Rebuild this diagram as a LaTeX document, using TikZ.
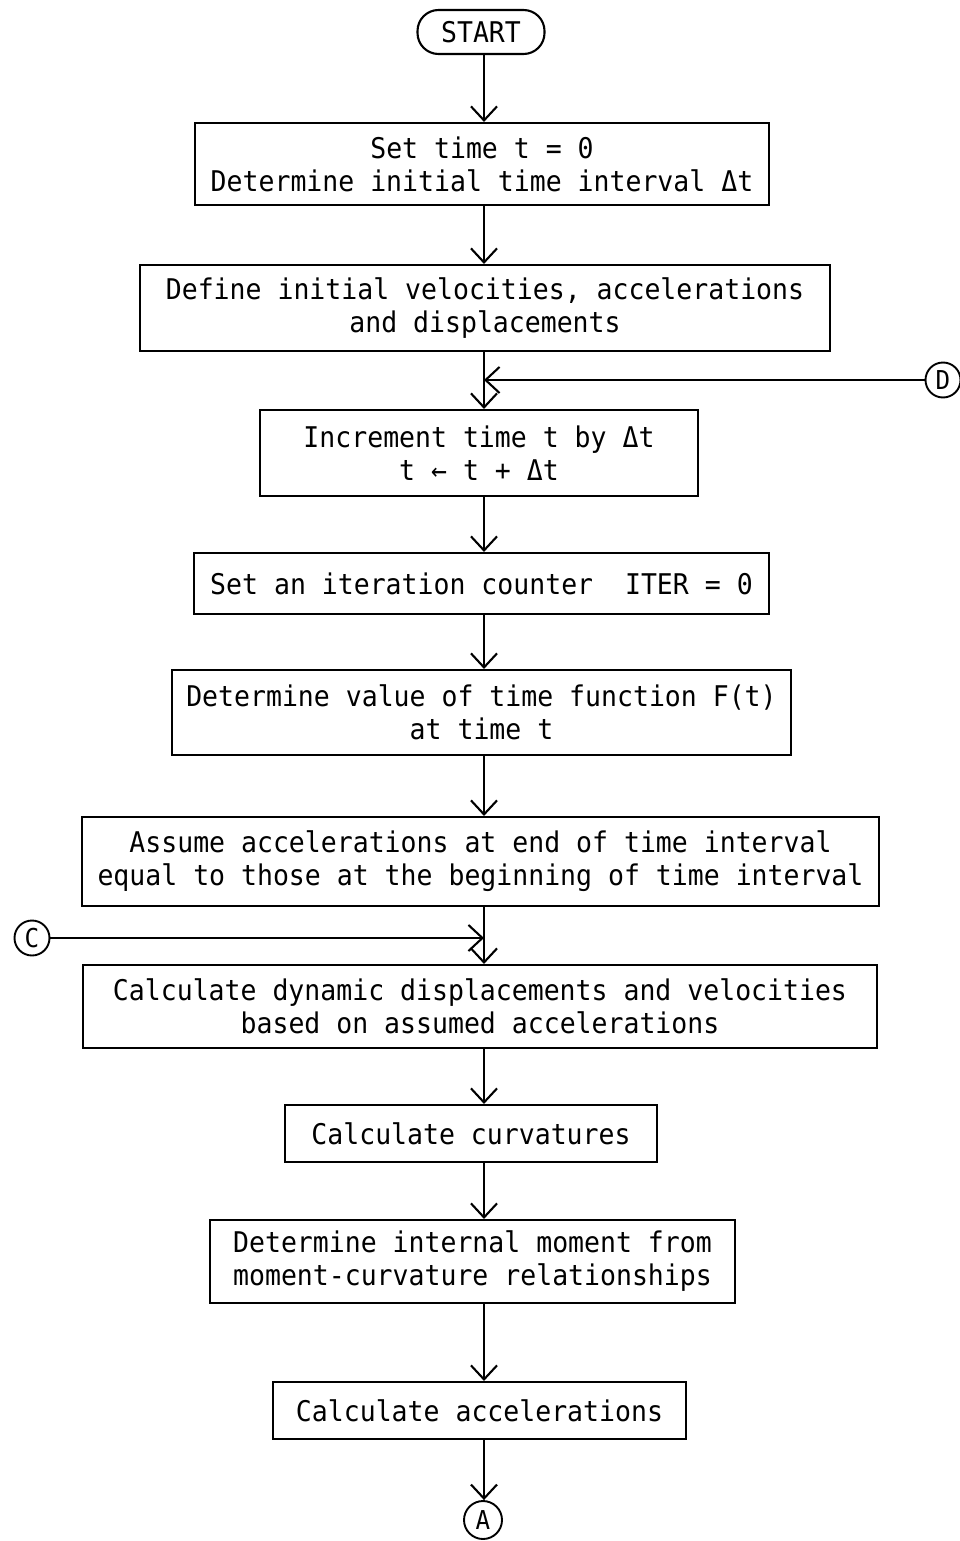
\documentclass[tikz,border=0pt]{standalone}
\usepackage{fontspec}
\setmonofont[FakeStretch=0.93]{DejaVu Sans Mono}
\usetikzlibrary{arrows.meta}
\begin{document}
\begin{tikzpicture}[x=1pt,y=-1pt,
  every node/.style={font=\ttfamily\fontsize{28.5}{33}\selectfont, inner sep=0pt, align=center},
  procbox/.style={draw, line width=2.1pt},
  term/.style={draw, line width=2.1pt, rounded corners=21pt, minimum width=127pt, minimum height=44pt},
  conn/.style={draw, circle, line width=1.9pt, minimum size=35pt, font=\ttfamily\fontsize{26}{26}\selectfont},
  flow/.style={line width=2.1pt, -{Straight Barb[length=14pt,width=26pt,line width=2.1pt]}}]
\useasboundingbox (0,0) rectangle (960,1541);
\fill[white] (0,0) rectangle (960,1541);
\coordinate (spine) at (484,0);

\node[term] (start) at (481,32) {START};
\node[procbox, minimum width=574pt, minimum height=82pt] (b1) at (482,164) {Set time t = 0\\Determine initial time interval Δt};
\node[procbox, minimum width=690pt, minimum height=86pt] (b2) at (485,308) {Define initial velocities, accelerations\\and displacements};
\node[procbox, minimum width=438pt, minimum height=86pt] (b3) at (479,453) {Increment time t by Δt\\t ← t + Δt};
\node[procbox, minimum width=575pt, minimum height=61pt] (b4) at (481.5,583.5) {Set an iteration counter\ \ ITER = 0};
\node[procbox, minimum width=619pt, minimum height=85pt] (b5) at (481.5,712.5) {Determine value of time function F(t)\\at time t};
\node[procbox, minimum width=797pt, minimum height=89pt] (b6) at (480.5,861.5) {Assume accelerations at end of time interval\\equal to those at the beginning of time interval};
\node[procbox, minimum width=794pt, minimum height=83pt] (b7) at (480,1006.5) {Calculate dynamic displacements and velocities\\based on assumed accelerations};
\node[procbox, minimum width=372pt, minimum height=57pt] (b8) at (471,1133.5) {Calculate curvatures};
\node[procbox, minimum width=525pt, minimum height=83pt] (b9) at (472.5,1261.5) {Determine internal moment from\\moment-curvature relationships};
\node[procbox, minimum width=413pt, minimum height=57pt] (b10) at (479.5,1410.5) {Calculate accelerations};

\node[conn] (D) at (943,380) {D};
\node[conn] (C) at (32,938) {C};
\node[conn, minimum size=38pt] (A) at (483,1520) {A};

\draw[flow] (start.south -| spine) -- (b1.north -| spine);
\draw[flow] (b1.south -| spine) -- (b2.north -| spine);
\draw[flow] (b2.south -| spine) -- (b3.north -| spine);
\draw[flow] (b3.south -| spine) -- (b4.north -| spine);
\draw[flow] (b4.south -| spine) -- (b5.north -| spine);
\draw[flow] (b5.south -| spine) -- (b6.north -| spine);
\draw[flow] (b6.south -| spine) -- (b7.north -| spine);
\draw[flow] (b7.south -| spine) -- (b8.north -| spine);
\draw[flow] (b8.south -| spine) -- (b9.north -| spine);
\draw[flow] (b9.south -| spine) -- (b10.north -| spine);
\draw[flow] (b10.south -| spine) -- (A.north -| spine);
\draw[flow] (D.west) -- (D.west -| spine);
\draw[flow] (C.east) -- (C.east -| spine);
\end{tikzpicture}
\end{document}
